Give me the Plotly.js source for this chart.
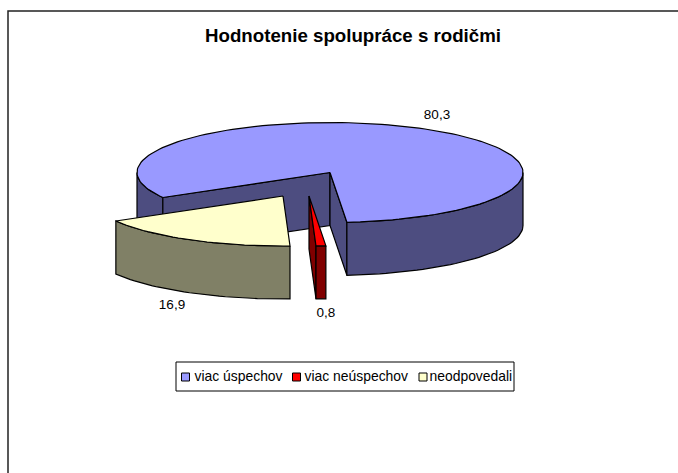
<!DOCTYPE html>
<html><head><meta charset="utf-8">
<script src="https://cdn.plot.ly/plotly-3.0.1.min.js"></script>
<style>html,body{margin:0;padding:0;background:#fff}</style>
</head><body><div id="chart" style="width:678px;height:473px"></div>
<script>
const categories = ['viac úspechov', 'viac neúspechov', 'neodpovedali'];
const values = [80.3, 0.8, 16.9];
const topColors = ['#9999FF', '#FF0000', '#FFFFCC'];
const sideColors = ['#4D4D80', '#800000', '#808066'];

// Pie geometry in page pixels
const CX = 330, CY = 172.5, RX = 193, RY = 50, DEPTH = 53, START = 240;
const offsets = [[0, 0], [-21, 23.5], [-47, 23.5]];
const labelPos = [[437, 115.5], [326, 313.5], [172, 305.5]];
const legendX = [185.5, 296.5, 423];
const legendTextX = [194.5, 304.5, 429.5];
const legendY = 377;

const total = values.reduce((a, b) => a + b, 0);
const rad = d => d * Math.PI / 180;
function rimPt(a, o) { return [CX + o[0] + RX * Math.sin(rad(a)), CY + o[1] - RY * Math.cos(rad(a))]; }
function arc(a0, a1, o) {
  const pts = [], n = Math.max(2, Math.ceil(Math.abs(a1 - a0) / 2));
  for (let i = 0; i <= n; i++) pts.push(rimPt(a0 + (a1 - a0) * i / n, o));
  return pts;
}
function poly(pts, fill) {
  const xs = pts.map(p => p[0]), ys = pts.map(p => p[1]);
  xs.push(xs[0]); ys.push(ys[0]);
  return { type: 'scatter', mode: 'lines', x: xs, y: ys, fill: 'toself', fillcolor: fill,
    line: { color: '#000', width: 1.2 }, hoverinfo: 'skip', showlegend: false };
}
const down = pts => pts.map(p => [p[0], p[1] + DEPTH]);
function rimFace(a0, a1, o, fill) { const t = arc(a0, a1, o); return poly(t.concat(down(t).reverse()), fill); }
function wall(a, o, fill) {
  const apex = [CX + o[0], CY + o[1]], e = rimPt(a, o);
  return poly([apex, e, [e[0], e[1] + DEPTH], [apex[0], apex[1] + DEPTH]], fill);
}
function topFace(a0, a1, o, fill) { return poly([[CX + o[0], CY + o[1]]].concat(arc(a0, a1, o)), fill); }

// Slice angles, clockwise from 12 o'clock
let acc = START;
const spans = values.map(v => { const s = [acc, acc + v / total * 360]; acc = s[1]; return s; });
const [sb, sr, sy] = spans;
const traces = [
  // blue slice: left rim, inner walls, right rim, top
  rimFace(sb[0], 270, offsets[0], sideColors[0]),
  wall(sb[0], offsets[0], sideColors[0]),
  wall(sb[1], offsets[0], sideColors[0]),
  rimFace(450, sb[1], offsets[0], sideColors[0]),
  topFace(sb[0], sb[1], offsets[0], topColors[0]),
  // red slice
  wall(sr[1], offsets[1], sideColors[1]),
  rimFace(sr[0], sr[1], offsets[1], sideColors[1]),
  topFace(sr[0], sr[1], offsets[1], topColors[1]),
  // yellow slice
  rimFace(sy[0], sy[1], offsets[2], sideColors[2]),
  topFace(sy[0], sy[1], offsets[2], topColors[2]),
  // data labels
  { type: 'scatter', mode: 'text', x: labelPos.map(p => p[0]), y: labelPos.map(p => p[1]),
    text: values.map(v => v.toFixed(1).replace('.', ',')), textposition: 'middle center',
    textfont: { family: 'Liberation Sans', size: 13.5, color: '#000' }, hoverinfo: 'skip', showlegend: false },
  // legend swatches and names
  { type: 'scatter', mode: 'markers', x: legendX, y: legendX.map(() => legendY),
    marker: { symbol: 'square', size: 8, color: topColors, line: { color: '#000', width: 1 } },
    hoverinfo: 'skip', showlegend: false },
  { type: 'scatter', mode: 'text', x: legendTextX, y: legendTextX.map(() => legendY + 0.5),
    text: categories, textposition: 'middle right',
    textfont: { family: 'Liberation Sans', size: 13.9, color: '#000' },
    hoverinfo: 'skip', showlegend: false }
];
const hidden = rg => ({ range: rg, visible: false, fixedrange: true });
Plotly.newPlot('chart', traces, {
  width: 678, height: 473, margin: { l: 0, r: 0, t: 0, b: 0 },
  paper_bgcolor: '#fff', plot_bgcolor: '#fff', showlegend: false,
  xaxis: hidden([0, 678]), yaxis: hidden([473, 0]),
  title: { text: '<b>Hodnotenie spolupráce s rodičmi</b>', x: 353 / 678, xanchor: 'center', y: 1 - 35.5 / 473, yanchor: 'middle',
    font: { family: 'Liberation Sans', size: 18.7, color: '#000' } },
  shapes: [
    { type: 'rect', xref: 'x', yref: 'y', x0: 8, y0: 11, x1: 690, y1: 490, line: { color: '#222', width: 1.5 }, layer: 'below' },
    { type: 'rect', xref: 'x', yref: 'y', x0: 176, y0: 362, x1: 514, y1: 391, line: { color: '#000', width: 1 }, layer: 'below' }
  ]
}, { displayModeBar: false, staticPlot: true });
</script></body></html>
